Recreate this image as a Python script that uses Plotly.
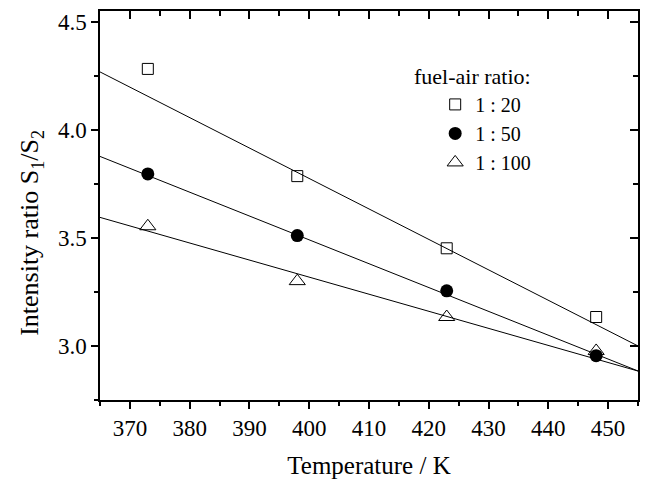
import plotly.graph_objects as go

# ---- data ----
temperature = [373, 398, 423, 448]
ratio_20 = [4.282, 3.786, 3.452, 3.134]
ratio_50 = [3.796, 3.511, 3.255, 2.955]
ratio_100 = [3.554, 3.300, 3.134, 2.977]
series_names = ["1 : 20", "1 : 50", "1 : 100"]
legend_title = "fuel-air ratio:"
x_title = "Temperature / K"
y_title = "Intensity ratio S<sub>1</sub>/S<sub>2</sub>"

# linear fit lines (intercept + slope * T), as drawn in the reference
fit_intercept = [9.411, 7.903, 6.4785]
fit_slope = [-0.01409, -0.01103, -0.00790]

x_range = [365, 455]
y_range = [2.75, 4.55]

FONT = "Liberation Serif, Times New Roman, serif"

fig = go.Figure()

# fit lines on overlay axes (same ranges)
for a, b in zip(fit_intercept, fit_slope):
    xs = x_range
    ys = [a + b * x for x in xs]
    fig.add_trace(go.Scatter(x=xs, y=ys, mode="lines",
                             line=dict(color="black", width=1),
                             showlegend=False, hoverinfo="skip",
                             xaxis="x2", yaxis="y2"))

styles = [
    dict(symbol="square-open", size=11, color="black", line=dict(width=1, color="black")),
    dict(symbol="circle", size=13, color="black", line=dict(width=0)),
    dict(symbol="triangle-up-open", size=14, color="black", line=dict(width=1, color="black")),
]
for name, ys, st in zip(series_names, [ratio_20, ratio_50, ratio_100], styles):
    fig.add_trace(go.Scatter(x=temperature, y=ys, mode="markers", name=name,
                             marker=st))

axis_common = dict(showgrid=False, zeroline=False, showline=True,
                   linecolor="black", linewidth=1.5,
                   tickcolor="black", tickwidth=1.5)

fig.update_layout(
    width=645, height=482,
    margin=dict(l=100, r=7, t=11, b=75),
    paper_bgcolor="white", plot_bgcolor="white",
    font=dict(family=FONT, size=22, color="black"),
    showlegend=True,
    legend=dict(
        x=0.623, y=0.81, xanchor="left", yanchor="top",
        bgcolor="rgba(0,0,0,0)", borderwidth=0,
        font=dict(family=FONT, size=20), itemwidth=30, tracegroupgap=0,
    ),
    annotations=[
        dict(text=legend_title, xref="paper", yref="paper",
             x=0.58, y=0.831, xanchor="left", yanchor="middle",
             showarrow=False, font=dict(family=FONT, size=22)),
        dict(text=y_title, xref="paper", yref="paper", textangle=-90,
             x=-0.128, y=0.43, xanchor="center", yanchor="middle",
             showarrow=False, font=dict(family=FONT, size=26)),
    ],
    xaxis=dict(**axis_common, range=x_range, tick0=370, dtick=10,
               ticks="outside", ticklen=7,
               minor=dict(dtick=5, tick0=365, ticks="outside", ticklen=4,
                          tickcolor="black", tickwidth=1.5),
               tickfont=dict(family=FONT, size=23),
               title=dict(text=x_title, font=dict(family=FONT, size=25), standoff=16)),
    yaxis=dict(**axis_common, range=y_range, tick0=3.0, dtick=0.5, tickformat=".1f",
               ticks="outside", ticklen=7,
               minor=dict(dtick=0.25, tick0=3.0, ticks="outside", ticklen=4,
                          tickcolor="black", tickwidth=1.5),
               tickfont=dict(family=FONT, size=23)),
    xaxis2=dict(**axis_common, range=x_range, overlaying="x", side="top", anchor="y2",
                tick0=370, dtick=10, ticks="inside", ticklen=8, showticklabels=False,
                minor=dict(dtick=5, tick0=365, ticks="inside", ticklen=5,
                           tickcolor="black", tickwidth=1.5)),
    yaxis2=dict(**axis_common, range=y_range, overlaying="y", side="right", anchor="x2",
                tick0=3.0, dtick=0.5, ticks="inside", ticklen=8, showticklabels=False,
                minor=dict(dtick=0.25, tick0=3.0, ticks="inside", ticklen=5,
                           tickcolor="black", tickwidth=1.5)),
)

fig.write_html("out.html")
